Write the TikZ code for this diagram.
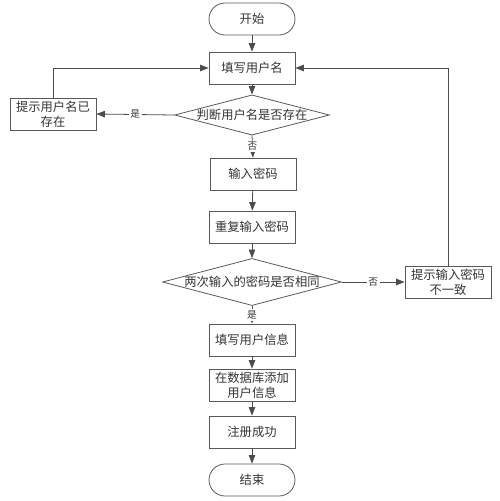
\documentclass[tikz,border=0pt]{standalone}
\usepackage{fontspec}
\newfontfamily\cjk{Noto Sans CJK SC}
\usetikzlibrary{shapes.geometric,arrows.meta}
\tikzset{
    box/.style={draw=black!65, line width=0.45pt, minimum width=1.72cm, minimum height=0.64cm, inner sep=1pt, align=center},
    term/.style={box, rounded corners=0.32cm},
    check/.style={draw=black!65, line width=0.45pt, diamond, inner sep=0pt},
    flow/.style={draw=black!70, line width=0.45pt, -{Triangle[length=1.7mm,width=1.3mm]}},
    tag/.style={fill=white, inner sep=1pt, font=\cjk\fontsize{5.5}{6}\selectfont}
}
\begin{document}
\begin{tikzpicture}[x=0.02cm, y=-0.02cm, font=\cjk\fontsize{7}{8.5}\selectfont, text=black!80]

                \useasboundingbox (0,0) rectangle (500,501);
                \node[term] (start) at (252,19) {开始};
                \node[box] (name) at (252,68) {填写用户名};
                \node[check, aspect=3.85, minimum width=3.08cm, minimum height=0.8cm] (chkname) at (252,115) {判断用户名是否存在};
                \node[box] (exist) at (53,114) {提示用户名已\\存在};
                \node[box] (pwd) at (253,174) {输入密码};
                \node[box] (pwdagain) at (252,227) {重复输入密码};
                \node[check, aspect=3.8, minimum width=3.58cm, minimum height=0.94cm] (chkpwd) at (252,282) {两次输入的密码是否相同};
                \node[box] (differ) at (448,282) {提示输入密码\\不一致};
                \node[box] (info) at (252,340) {填写用户信息};
                \node[box] (db) at (252,385) {在数据库添加\\用户信息};
                \node[box] (ok) at (252,432) {注册成功};
                \node[term] (stop) at (252,480) {结束};
                \draw[flow] (start) -- (name);
                \draw[flow] (name) -- (chkname);
                \draw[flow] (chkname.west) -- node[tag] {是} (exist.east);
                \draw[flow] (exist.north) |- (name.west);
                \draw[flow] (chkname.south) -- node[tag] {否} (pwd.north);
                \draw[flow] (pwd) -- (pwdagain);
                \draw[flow] (pwdagain) -- (chkpwd.north);
                \draw[flow] (chkpwd.east) -- node[tag] {否} (differ.west);
                \draw[flow] (differ.north) |- (name.east);
                \draw[flow] (chkpwd.south) -- node[tag] {是} (info.north);
                \draw[flow] (info) -- (db);
                \draw[flow] (db) -- (ok);
                \draw[flow] (ok) -- (stop);
            \end{tikzpicture}
\end{document}
